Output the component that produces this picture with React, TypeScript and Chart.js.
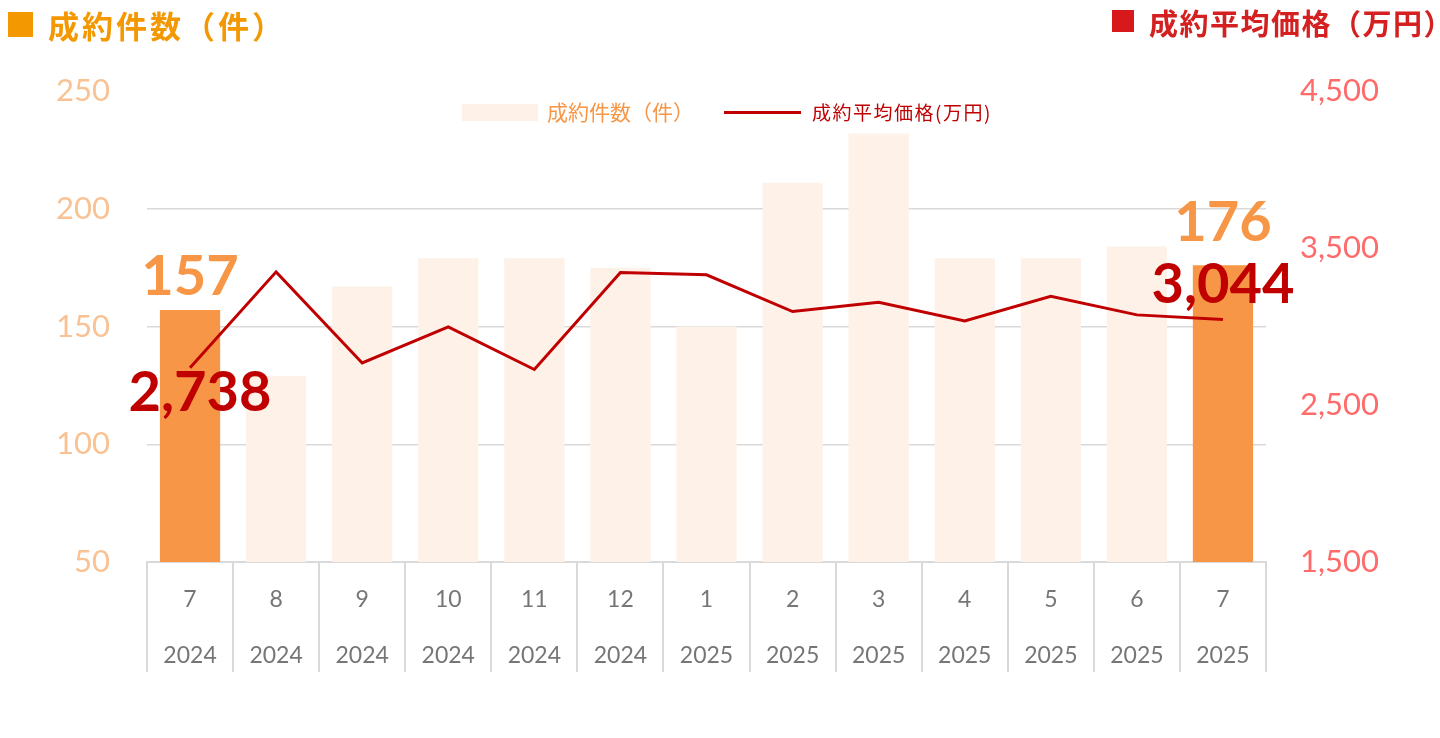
import React, { useEffect, useRef } from "react";
import { Chart, registerables } from "chart.js";

Chart.register(...registerables);

// x axis: month + year
const months = ["7", "8", "9", "10", "11", "12", "1", "2", "3", "4", "5", "6", "7"];
const years = ["2024", "2024", "2024", "2024", "2024", "2024", "2025", "2025", "2025", "2025", "2025", "2025", "2025"];

// 成約件数 (bars, left axis)
const counts = [157, 129, 167, 179, 179, 175, 150, 211, 232, 179, 179, 184, 176];
// 成約平均価格 (line, right axis)
const prices = [2738, 3348, 2768, 2998, 2726, 3344, 3329, 3095, 3155, 3036, 3193, 3074, 3044];

// bars that are highlighted and get big value labels
const highlighted = [0, 12];

const leftTicks = { min: 50, max: 250, step: 50 };
const rightTicks = { min: 1500, max: 4500, step: 1000 };

const ORANGE = "#F79646";
const PALE = "#FDF1E8";
const RED = "#C00000";
const GRID = "#D9D9D9";

const fmt = (v: number) => v.toLocaleString("en-US");

const valueLabels = {
  id: "valueLabels",
  afterDatasetsDraw(chart: any) {
    const ctx = chart.ctx;
    const bars = chart.getDatasetMeta(0).data;
    const line = chart.getDatasetMeta(1).data;
    ctx.save();
    ctx.textAlign = "center";
    ctx.textBaseline = "middle";
    ctx.font = "bold 56px Lato, 'Noto Sans', sans-serif";
    highlighted.forEach((i, k) => {
      const b = bars[i];
      ctx.fillStyle = ORANGE;
      ctx.fillText(String(counts[i]), b.x, b.y + (k === 0 ? -33 : -42));
      const p = line[i];
      ctx.fillStyle = RED;
      ctx.fillText(fmt(prices[i]), p.x + (k === 0 ? 10 : 0), p.y + (k === 0 ? 25 : -35));
    });
    ctx.restore();
  },
};

const App = () => {
  const canvasRef = useRef<HTMLCanvasElement>(null);

  useEffect(() => {
    const ctx = canvasRef.current?.getContext("2d");
    if (!ctx) return;
    const chart = new Chart(ctx, {
      type: "bar",
      data: {
        labels: months.map((m, i) => [m, years[i]]),
        datasets: [
          {
            type: "bar",
            label: "成約件数（件）",
            data: counts,
            backgroundColor: counts.map((_, i) => (highlighted.includes(i) ? ORANGE : PALE)),
            yAxisID: "y",
            barPercentage: 0.7,
            categoryPercentage: 1,
            order: 1,
          },
          {
            type: "line",
            label: "成約平均価格(万円)",
            data: prices,
            borderColor: RED,
            borderWidth: 3,
            pointRadius: 0,
            tension: 0,
            yAxisID: "y1",
            order: 0,
          },
        ],
      } as any,
      options: {
        animation: false,
        responsive: true,
        maintainAspectRatio: false,
        layout: { padding: { top: 91, left: 0, right: 0, bottom: 0 } },
        plugins: { legend: { display: false }, tooltip: { enabled: false } },
        scales: {
          x: {
            grid: {
              display: true,
              drawOnChartArea: false,
              drawTicks: true,
              tickLength: 110,
              color: GRID,
              lineWidth: 2,
              offset: true,
            },
            border: { display: true, color: GRID, width: 2 },
            ticks: {
              color: "#767676",
              padding: -100,
              autoSkip: false,
              maxRotation: 0,
              font: { family: "Lato, 'Noto Sans', sans-serif", size: 23, lineHeight: 2.43 },
            },
            afterFit: (s: any) => {
              s.height = 176;
            },
          },
          y: {
            position: "left",
            min: leftTicks.min,
            max: leftTicks.max,
            ticks: {
              stepSize: leftTicks.step,
              color: "#FAC293",
              padding: 37,
              font: { family: "Lato, 'Noto Sans', sans-serif", size: 31 },
            },
            grid: {
              drawTicks: false,
              color: (c: any) => (c.tick && c.tick.value === leftTicks.max ? "transparent" : GRID),
              lineWidth: 1.5,
            },
            border: { display: false },
            afterFit: (s: any) => {
              s.width = 147;
            },
          },
          y1: {
            position: "right",
            min: rightTicks.min,
            max: rightTicks.max,
            ticks: {
              stepSize: rightTicks.step,
              color: "#FF6B6B",
              padding: 34,
              callback: (v: any) => fmt(Number(v)),
              font: { family: "Lato, 'Noto Sans', sans-serif", size: 31 },
            },
            grid: { display: false, drawTicks: false },
            border: { display: false },
            afterFit: (s: any) => {
              s.width = 174;
            },
          },
        },
      } as any,
      plugins: [valueLabels],
    });
    return () => {
      chart.destroy();
    };
  }, []);

  const cjk = "'Noto Sans CJK JP', 'Noto Sans', sans-serif";

  return (
    <div style={{ position: "absolute", left: 0, top: 0, width: 1440, height: 738, background: "#fff", fontFamily: cjk }}>
      <canvas ref={canvasRef} />
      {/* axis titles */}
      <div style={{ position: "absolute", left: 8, top: 12, width: 25, height: 25, background: "#F39800" }} />
      <div style={{ position: "absolute", left: 48, top: 2, fontSize: 31, fontWeight: 700, color: "#F39800", letterSpacing: 3, whiteSpace: "nowrap" }}>
        成約件数（件）
      </div>
      <div style={{ position: "absolute", left: 1112, top: 10, width: 22, height: 22, background: "#D7191C" }} />
      <div style={{ position: "absolute", left: 1149, top: 1, fontSize: 29, fontWeight: 700, color: "#D42020", letterSpacing: 1.5, whiteSpace: "nowrap" }}>
        成約平均価格（万円）
      </div>
      {/* legend */}
      <div style={{ position: "absolute", left: 462, top: 104, width: 76, height: 17, background: PALE }} />
      <div style={{ position: "absolute", left: 547, top: 96, fontSize: 21, color: ORANGE, whiteSpace: "nowrap", lineHeight: "30px" }}>
        成約件数（件）
      </div>
      <div style={{ position: "absolute", left: 724, top: 111, width: 77, height: 3, background: RED }} />
      <div style={{ position: "absolute", left: 812, top: 97, fontSize: 19, color: RED, whiteSpace: "nowrap", lineHeight: "30px", letterSpacing: 1.5 }}>
        成約平均価格(万円)
      </div>
    </div>
  );
};

export default App;
